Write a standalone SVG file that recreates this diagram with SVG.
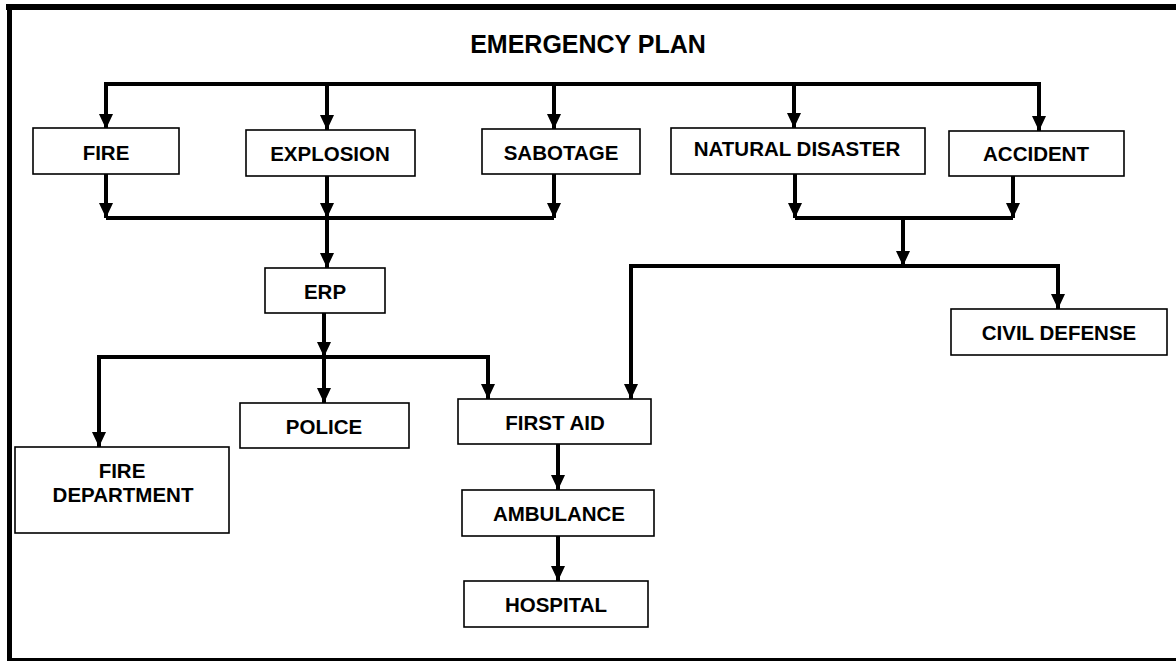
<svg xmlns="http://www.w3.org/2000/svg" width="1176" height="661" viewBox="0 0 1176 661">
<style>
.box{fill:#fff;stroke:#000;stroke-width:1.6}
.lbl{font-family:"Liberation Sans",Arial,sans-serif;font-weight:bold;font-size:20.5px;fill:#000;text-anchor:middle}
.title{font-family:"Liberation Sans",Arial,sans-serif;font-weight:bold;font-size:25px;fill:#000;text-anchor:middle}
.ln{fill:none;stroke:#000;stroke-width:4}
.ar{fill:none;stroke:#000;stroke-width:4;marker-end:url(#ah)}
</style>
<defs>
<marker id="ah" markerUnits="userSpaceOnUse" markerWidth="16" markerHeight="16" refX="15" refY="7" orient="auto">
<path d="M0,0 L15,7 L0,14 z" fill="#000"/>
</marker>
</defs>
<rect width="1176" height="661" fill="#fff"/>
<g id="frame">
<line x1="6" y1="7" x2="1176" y2="7" stroke="#000" stroke-width="6"/>
<line x1="9.5" y1="4" x2="9.5" y2="661" stroke="#000" stroke-width="5"/>
<line x1="7" y1="659.5" x2="1176" y2="659.5" stroke="#000" stroke-width="3"/>
</g>
<text class="title" x="588" y="53">EMERGENCY PLAN</text>
<g id="connectors">
<polyline class="ln" points="106,84 1039,84"/>
<line class="ar" x1="106" y1="82" x2="106" y2="129"/>
<line class="ar" x1="327" y1="84" x2="327" y2="130"/>
<line class="ar" x1="554" y1="84" x2="554" y2="129"/>
<line class="ar" x1="794" y1="84" x2="794" y2="128"/>
<line class="ar" x1="1039" y1="82" x2="1039" y2="131"/>
<line class="ar" x1="106" y1="174" x2="106" y2="218"/>
<line class="ar" x1="327" y1="176" x2="327" y2="218"/>
<line class="ar" x1="554" y1="174" x2="554" y2="218"/>
<polyline class="ln" points="106,218 554,218"/>
<line class="ar" x1="327" y1="218" x2="327" y2="268"/>
<line class="ar" x1="324" y1="313" x2="324" y2="357"/>
<polyline class="ln" points="99,357 488,357"/>
<line class="ar" x1="99" y1="355" x2="99" y2="447"/>
<line class="ar" x1="324" y1="357" x2="324" y2="403"/>
<line class="ar" x1="488" y1="355" x2="488" y2="399"/>
<line class="ar" x1="795" y1="174" x2="795" y2="218"/>
<line class="ar" x1="1013" y1="176" x2="1013" y2="218"/>
<polyline class="ln" points="795,218 1013,218"/>
<line class="ar" x1="903" y1="218" x2="903" y2="266"/>
<polyline class="ln" points="631,266 1058,266"/>
<line class="ar" x1="631" y1="264" x2="631" y2="399"/>
<line class="ar" x1="1058" y1="264" x2="1058" y2="309"/>
<line class="ar" x1="558" y1="444" x2="558" y2="490"/>
<line class="ar" x1="558" y1="536" x2="558" y2="581"/>
</g>
<g id="fire"><rect class="box" x="33" y="128" width="146" height="46"/><text class="lbl" x="106" y="160">FIRE</text></g>
<g id="explosion"><rect class="box" x="246" y="130" width="169" height="46"/><text class="lbl" x="330" y="161">EXPLOSION</text></g>
<g id="sabotage"><rect class="box" x="482" y="129" width="158" height="45"/><text class="lbl" x="561" y="160">SABOTAGE</text></g>
<g id="natural-disaster"><rect class="box" x="671" y="128" width="254" height="46"/><text class="lbl" x="797" y="156">NATURAL DISASTER</text></g>
<g id="accident"><rect class="box" x="949" y="131" width="175" height="45"/><text class="lbl" x="1036" y="161">ACCIDENT</text></g>
<g id="erp"><rect class="box" x="265" y="268" width="120" height="45"/><text class="lbl" x="325" y="299">ERP</text></g>
<g id="civil-defense"><rect class="box" x="951" y="309" width="216" height="46"/><text class="lbl" x="1059" y="340">CIVIL DEFENSE</text></g>
<g id="fire-department"><rect class="box" x="15" y="447" width="214" height="86"/><text class="lbl" x="122" y="478">FIRE</text><text class="lbl" x="123" y="502">DEPARTMENT</text></g>
<g id="police"><rect class="box" x="240" y="403" width="169" height="45"/><text class="lbl" x="324" y="434">POLICE</text></g>
<g id="first-aid"><rect class="box" x="458" y="399" width="193" height="45"/><text class="lbl" x="555" y="430">FIRST AID</text></g>
<g id="ambulance"><rect class="box" x="462" y="490" width="192" height="46"/><text class="lbl" x="559" y="521">AMBULANCE</text></g>
<g id="hospital"><rect class="box" x="464" y="581" width="184" height="46"/><text class="lbl" x="556" y="612">HOSPITAL</text></g>
</svg>
